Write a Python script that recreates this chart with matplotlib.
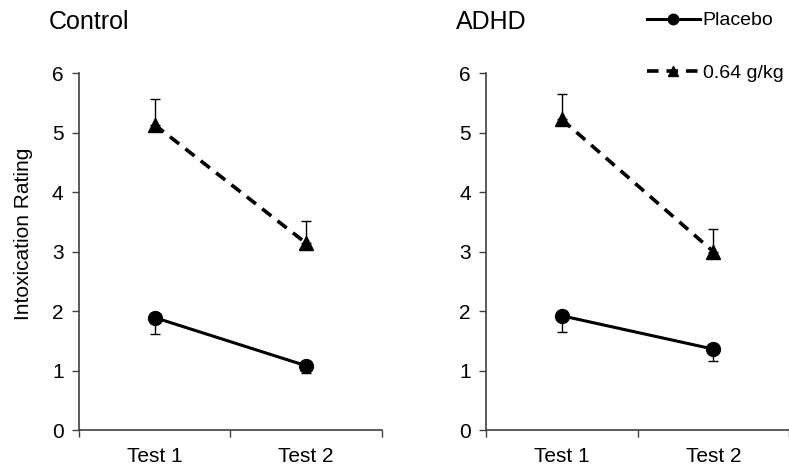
import numpy as np
import matplotlib
matplotlib.use('Agg')
import matplotlib.pyplot as plt

plt.rcParams['font.family'] = ['Liberation Sans', 'DejaVu Sans']

tests = ['Test 1', 'Test 2']
groups = ['Control', 'ADHD']

# mean ratings and SEM (placebo bars drawn downward, alcohol bars upward)
placebo = {'Control': [1.89, 1.08], 'ADHD': [1.92, 1.36]}
placebo_err = {'Control': [0.28, 0.13], 'ADHD': [0.27, 0.20]}
alcohol = {'Control': [5.13, 3.14], 'ADHD': [5.22, 3.00]}
alcohol_err = {'Control': [0.43, 0.38], 'ADHD': [0.42, 0.38]}

fig = plt.figure(figsize=(7.89, 4.75), dpi=100)
lefts = [0.100, 0.616]
x = np.array([0.5, 1.5])

handles = []
for g, left in zip(groups, lefts):
    ax = fig.add_axes([left, 0.0947, 0.384, 0.7516])
    zeros = [0, 0]
    ax.errorbar(x, placebo[g], yerr=[placebo_err[g], zeros], fmt='none',
                ecolor='black', elinewidth=1, capsize=3.5, capthick=1)
    ax.errorbar(x, alcohol[g], yerr=[zeros, alcohol_err[g]], fmt='none',
                ecolor='black', elinewidth=1, capsize=3.5, capthick=1)
    l1, = ax.plot(x, placebo[g], '-', color='black', lw=2.2, marker='o',
                  markersize=10, label='Placebo')
    l2, = ax.plot(x, alcohol[g], color='black', lw=2.6, ls=(0, (3.2, 2.2)),
                  marker='^', markersize=10, label='0.64 g/kg')
    handles = [l1, l2]

    ax.set_xlim(0, 2)
    ax.set_ylim(0, 6)
    ax.set_yticks(range(0, 7))
    ax.set_xticks([0, 1, 2])
    ax.set_xticklabels([])
    ax.set_xticks(x, minor=True)
    ax.set_xticklabels(tests, minor=True)
    ax.tick_params(axis='x', which='minor', length=0, pad=12, labelsize=15)
    ax.tick_params(axis='x', which='major', length=5, width=1, color='#404040')
    ax.tick_params(axis='y', length=5, width=1, color='#404040', labelsize=15, pad=6)
    for s in ['top', 'right']:
        ax.spines[s].set_visible(False)
    for s in ['left', 'bottom']:
        ax.spines[s].set_color('#404040')
        ax.spines[s].set_linewidth(1.2)
    ax.set_title(g, loc='left', x=-0.1, y=1.1, fontsize=18)
    if g == 'Control':
        ax.set_ylabel('Intoxication Rating', fontsize=15)
        ax.yaxis.set_label_coords(-0.15, 0.55)

fig.legend(handles=handles, loc='upper left', bbox_to_anchor=(0.798, 1.012),
           frameon=False, fontsize=14, handlelength=2.7, handletextpad=0.15,
           labelspacing=1.8, markerscale=0.75)

fig.savefig('out.png', dpi=100)
